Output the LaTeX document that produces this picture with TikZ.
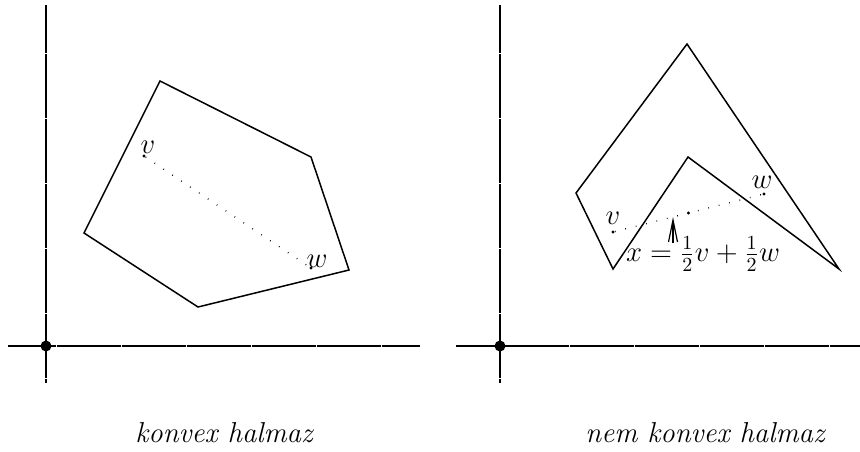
\documentclass[tikz,border=0pt]{standalone}
\usetikzlibrary{arrows.meta}
\begin{document}
\begin{tikzpicture}[x=0.5pt,y=-0.5pt,
  every node/.style={font=\Large},
  axis/.style={line width=0.8pt,dash pattern=on 8pt off 0.12pt},
  poly/.style={line width=0.75pt,line join=miter},
  seg/.style={line width=0.7pt,dash pattern=on 0.35pt off 5pt},
  pt/.style={circle,fill,inner sep=0pt,minimum size=1.6pt},
  origin/.style={circle,fill,inner sep=0pt,minimum size=5.5pt},
  captext/.style={font=\Large\itshape}]
\useasboundingbox (0,0) rectangle (860,451);
% left panel
\draw[axis] (46,5) -- (46,383);
\draw[axis] (8,346) -- (420,346);
\node[origin] (o1) at (46,346) {};
\coordinate (a1) at (160,81);
\coordinate (a2) at (311,157);
\coordinate (a3) at (349,270);
\coordinate (a4) at (198,307);
\coordinate (a5) at (84,233);
\draw[poly] (a1) -- (a2) -- (a3) -- (a4) -- (a5) -- cycle;
\node[pt] (v1) at (144,156) {};
\node[pt] (w1) at (311,268) {};
\draw[seg] (v1) -- (w1);
\node (lv1) at (148,147) {$v$};
\node (lw1) at (317,261) {$w$};
\node[captext] (c1) at (224,433) {konvex halmaz};
% right panel
\draw[axis] (500,5) -- (500,383);
\draw[axis] (456,346) -- (860,346);
\node[origin] (o2) at (500,346) {};
\coordinate (b1) at (687,44);
\coordinate (b2) at (839,269);
\coordinate (b3) at (688,157);
\coordinate (b4) at (613,269);
\coordinate (b5) at (576,193);
\draw[poly] (b1) -- (b2) -- (b3) -- (b4) -- (b5) -- cycle;
\node[pt] (v2) at (613,232) {};
\node[pt] (w2) at (764,194) {};
\node[pt] (m2) at (688.5,213) {};
\draw[seg] (v2) -- (w2);
\node (lv2) at (613,218) {$v$};
\node (lw2) at (762,182) {$w$};
\node (lx) at (703,254) {$x=\frac{1}{2}v+\frac{1}{2}w$};
\coordinate (ax) at (673,243);
\coordinate (at) at (673,217);
\draw[line width=0.6pt,-{Straight Barb[length=11pt,width=4.5pt,line width=0.6pt]}] (ax) -- (at);
\node[captext] (c2) at (705,433) {nem konvex halmaz};
\end{tikzpicture}
\end{document}
